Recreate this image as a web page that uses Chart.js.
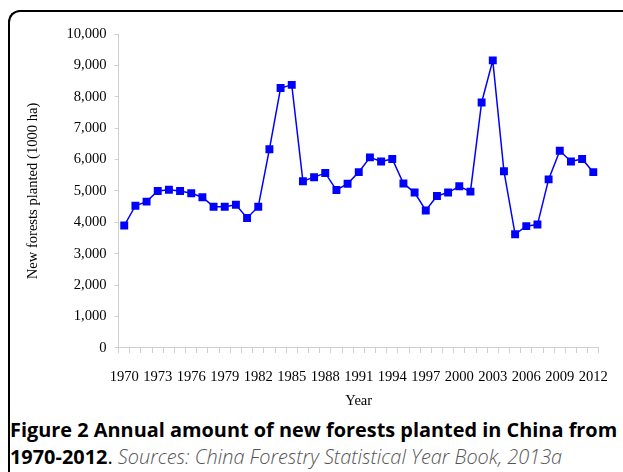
<!DOCTYPE html>
<html>
<head>
<meta charset="utf-8">
<script src="https://cdn.jsdelivr.net/npm/chart.js@4.4.0/dist/chart.umd.min.js"></script>
<style>
  html, body { margin: 0; padding: 0; background: #fff; }
  body { width: 623px; height: 472px; position: relative; overflow: hidden; }
  #frame { position: absolute; left: 8px; top: 10px; width: 700px; height: 600px;
           border-top: 2px solid #000; border-left: 2px solid #000; border-top-left-radius: 12px; }
  #wrap { position: absolute; left: 10px; top: 12px; width: 613px; height: 398px; }
  #cap { position: absolute; left: 10px; top: 416px; width: 613px; font-family: "Open Sans", sans-serif;
         font-size: 19.9px; line-height: 27px; color: #000; white-space: nowrap; }
  #cap b { font-weight: 700; }
  #cap i { font-weight: 300; color: #555; }
</style>
</head>
<body>
<div id="frame"></div>
<div id="wrap"><canvas id="c"></canvas></div>
<div id="cap"><b>Figure 2 Annual amount of new forests planted in China from</b><br><b>1970-2012</b>. <i>Sources: China Forestry Statistical Year Book, 2013a</i></div>
<script>
const years = [];
for (let y = 1970; y <= 2012; y++) years.push(String(y));
const planted = [3900, 4530, 4660, 5000, 5040, 5000, 4930, 4800, 4500, 4500, 4560, 4140, 4500,
  6330, 8280, 8380, 5310, 5440, 5570, 5030, 5230, 5600, 6070, 5940, 6020, 5240, 4950, 4380,
  4840, 4950, 5150, 4980, 7820, 9160, 5630, 3620, 3880, 3930, 5370, 6280, 5940, 6020, 5600];
const yTicks = [0, 1000, 2000, 3000, 4000, 5000, 6000, 7000, 8000, 9000, 10000];
const xLabelEvery = 3;

const serif = "'Liberation Serif', 'Times New Roman', serif";
new Chart(document.getElementById('c'), {
  type: 'line',
  data: {
    labels: years,
    datasets: [{
      data: planted,
      borderColor: '#0000ff',
      backgroundColor: '#0000ff',
      borderWidth: 1.5,
      pointStyle: 'rect',
      pointRadius: 5.6,
      pointHoverRadius: 5.6,
      pointBorderWidth: 0,
      tension: 0
    }]
  },
  options: {
    responsive: true,
    maintainAspectRatio: false,
    animation: false,
    layout: { padding: { left: 14, right: 10, top: 22, bottom: 0 } },
    plugins: { legend: { display: false }, tooltip: { enabled: false } },
    scales: {
      x: {
        type: 'category',
        offset: true,
        grid: { display: true, drawOnChartArea: false, offset: true, tickLength: 5, color: '#cfcfcf', tickColor: '#cfcfcf' },
        border: { color: '#cfcfcf', width: 1 },
        ticks: {
          autoSkip: false, maxRotation: 0, minRotation: 0, padding: 15,
          color: '#000', font: { family: serif, size: 14.6 },
          callback: function (v, i) { return i % xLabelEvery === 0 ? this.getLabelForValue(v) : ''; }
        },
        title: { display: true, text: 'Year', color: '#000', font: { family: serif, size: 14.6 }, padding: { top: -8, bottom: 0 } }
      },
      y: {
        min: 0, max: 10000,
        afterBuildTicks: (axis) => { axis.ticks = yTicks.map(v => ({ value: v })); },
        grid: { display: true, drawOnChartArea: false, tickLength: 4, color: '#cfcfcf', tickColor: '#cfcfcf' },
        border: { color: '#cfcfcf', width: 1 },
        ticks: {
          padding: 8, color: '#000', font: { family: serif, size: 14.6 },
          callback: (v) => v.toLocaleString('en-US')
        },
        title: { display: true, text: 'New forests planted (1000 ha)', color: '#000', font: { family: serif, size: 14.6 }, padding: { top: 0, bottom: 17 } }
      }
    }
  }
});
</script>
</body>
</html>
